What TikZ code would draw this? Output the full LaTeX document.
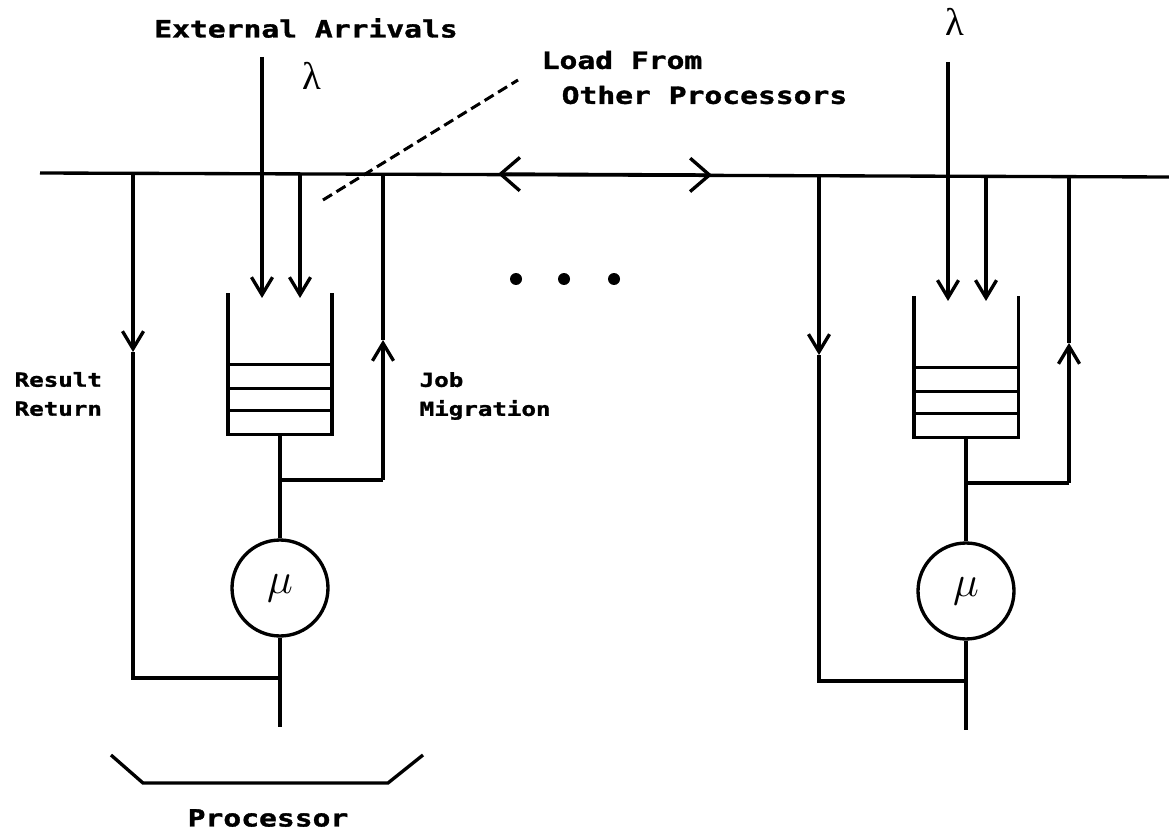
\documentclass[tikz,border=0pt]{standalone}
\usepackage{fontspec}
\usepackage{tikz}
\usetikzlibrary{arrows.meta,positioning,calc}
\newfontfamily\dotfont[FakeStretch=1.25,FakeBold=1.5]{DejaVu Sans Mono}
\newfontfamily\greekfont{Liberation Serif}

\begin{document}
\begin{tikzpicture}[x=0.02cm, y=-0.02cm, line width=1.9pt,
    >={Straight Barb[length=10pt,width=12pt]},
    textlabel/.style={font=\dotfont\bfseries\fontsize{13.5}{16}\selectfont, inner sep=0pt},
    smalllabel/.style={font=\dotfont\bfseries\fontsize{11}{16.5}\selectfont, inner sep=0pt, align=left},
    queue/.style={rectangle, minimum width=2.02cm, minimum height=2.76cm, inner sep=0pt},
    server/.style={circle, draw, minimum size=1.92cm, inner sep=0pt, font=\fontsize{24}{28}\selectfont},
    rate/.style={font=\greekfont\fontsize{22}{26}\selectfont, inner sep=0pt},
    jobdot/.style={circle, fill, minimum size=0.24cm, inner sep=0pt}]
    \useasboundingbox (0,0) rectangle (1169,834);

    % shared bus
    \coordinate (busW) at (40,173);
    \coordinate (busE) at (1169,177);
    \coordinate (busL) at (498,174);
    \coordinate (busR) at (712,175);
    \draw (busW) -- (busE);
    \draw [{Straight Barb[length=11pt,width=19pt]}-{Straight Barb[length=11pt,width=19pt]}] (busL) -- (busR);

    % two processors, same layout
    \foreach \p/\dx/\dy/\top in {L/0/0/57, R/686/3/59} {
    \begin{scope}[shift={(\dx,\dy)}]
        \node [queue] (q\p) at (280,364) {};
        \draw (q\p.north west) -- (q\p.south west) -- (q\p.south east) -- (q\p.north east);
        \foreach \h in {24,46,70}
            \draw ($(q\p.south west)+(0,-\h)$) -- ($(q\p.south east)+(0,-\h)$);
        \node [server] (s\p) at (280,588) {$\mu$};
        \draw (q\p.south) -- (s\p.north);

        % arrivals and load
        \coordinate (ain\p) at (262,\top);
        \coordinate (atip\p) at (262,298);
        \coordinate (lin\p) at (300,173);
        \coordinate (ltip\p) at (300,298);
        \draw [->] (ain\p) -- (atip\p);
        \draw [->] (lin\p) -- (ltip\p);

        % job migration
        \coordinate (jb\p) at (280,480);
        \coordinate (jbot\p) at (383,480);
        \coordinate (jtip\p) at (383,340);
        \coordinate (jtop\p) at (383,173);
        \draw (jb\p) -- (jbot\p);
        \draw [->] (jbot\p) -- (jtip\p);
        \draw (jtip\p) -- (jtop\p);

        % result return
        \coordinate (rtop\p) at (133,173);
        \coordinate (rtip\p) at (133,352);
        \coordinate (rbot\p) at (133,678);
        \coordinate (rjoin\p) at (280,678);
        \coordinate (out\p) at (280,727);
        \draw [->] (rtop\p) -- (rtip\p);
        \draw (rtip\p) -- (rbot\p) -- (rjoin\p);
        \draw (s\p.south) -- (out\p);
    \end{scope}
    }

    % labels
    \node [textlabel] (ext) at (306,28) {External Arrivals};
    \node [rate] (lamL) at (312,76) {λ};
    \node [rate] (lamR) at (955,22) {λ};
    \node [textlabel, anchor=west] (loadA) at (540,60) {Load From};
    \node [textlabel, anchor=west] (loadB) at (560,95) {Other Processors};
    \coordinate (dashA) at (323,200);
    \coordinate (dashB) at (518,80);
    \draw [line width=1.7pt, dash pattern=on 6pt off 3pt] (dashA) -- (dashB);
    \node [smalllabel, anchor=west] (res) at (13,394) {Result\\Return};
    \node [smalllabel, anchor=west] (job) at (418,396) {Job\\Migration};

    \foreach \x in {516,564,614}
        \node [jobdot] (d\x) at (\x,279) {};

    % processor bracket
    \draw (111,755) -- (143,783) -- (388,783) -- (423,755);
    \node [textlabel] (proc) at (268,818) {Processor};
\end{tikzpicture}
\end{document}
